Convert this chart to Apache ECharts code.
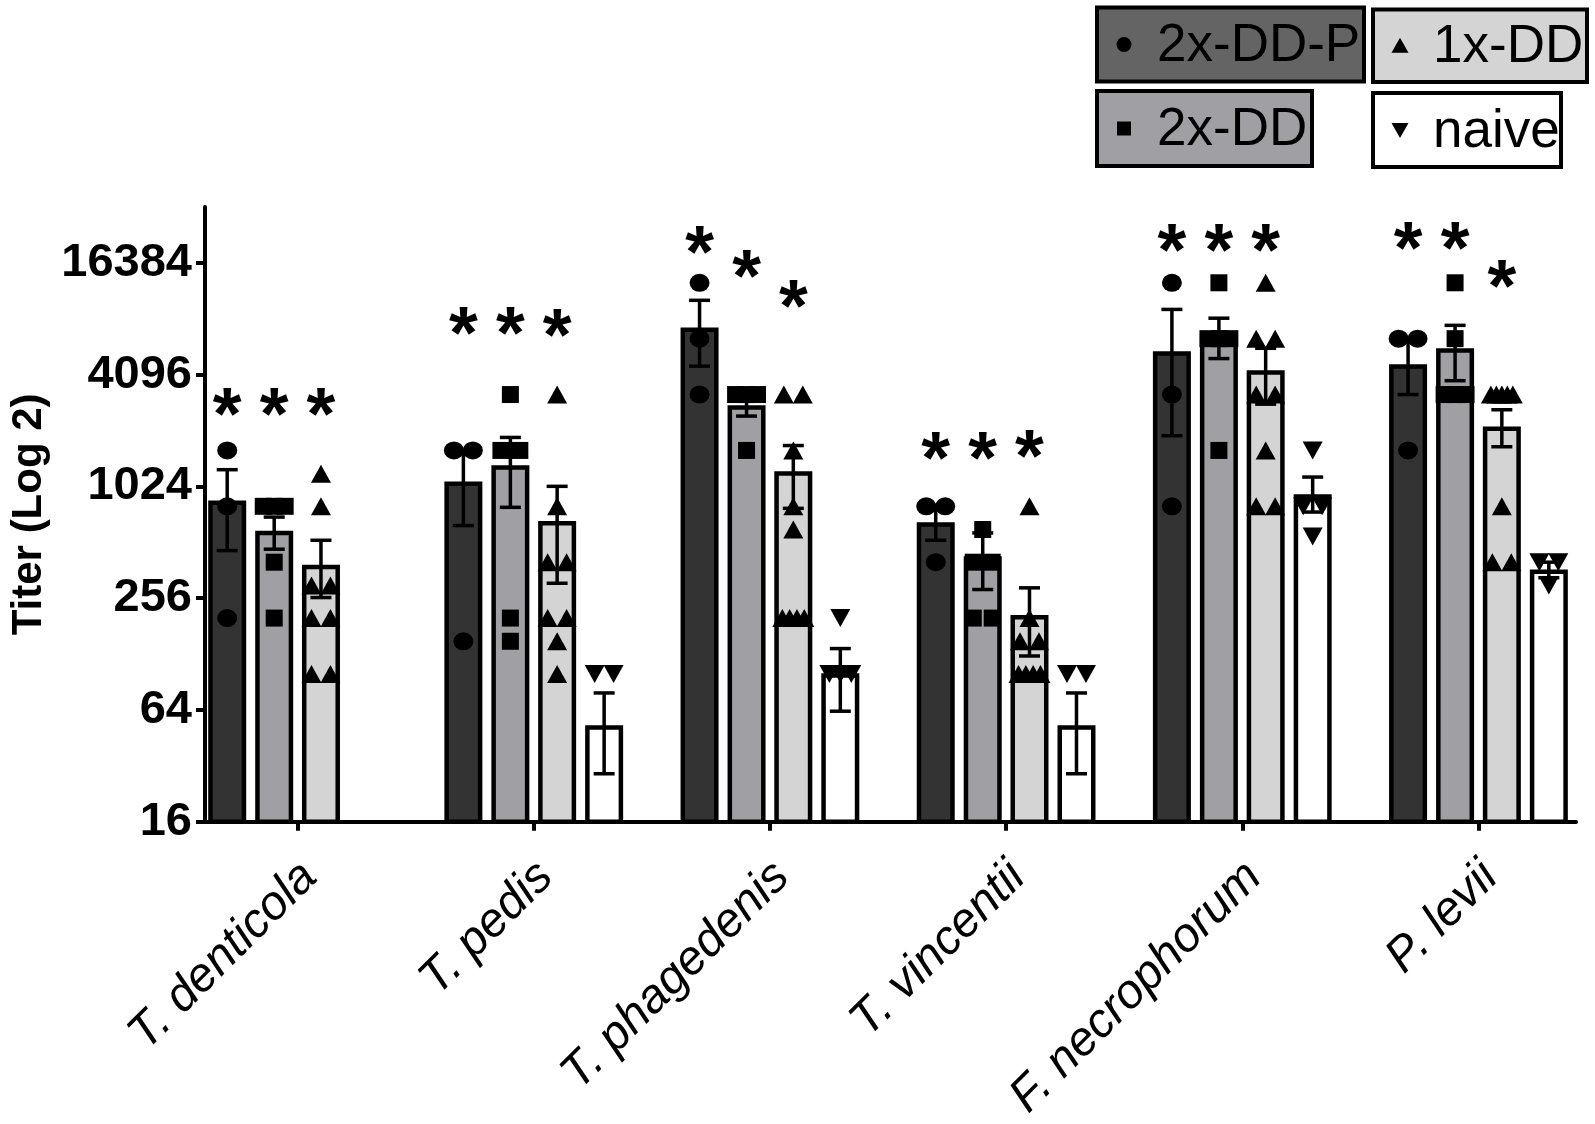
<!DOCTYPE html>
<html><head><meta charset="utf-8">
<script src="https://cdn.jsdelivr.net/npm/echarts@6/dist/echarts.min.js"></script>
<style>html,body{margin:0;padding:0;background:#fff;overflow:hidden}#c{width:1595px;height:1124px}</style>
</head><body><div id="c"></div>
<script>
// ---- data ----
const categories = ['T. denticola','T. pedis','T. phagedenis','T. vincentii','F. necrophorum','P. levii'];
const groupNames = ['2x-DD-P','2x-DD','1x-DD','naive'];
const yTicks = [16, 64, 256, 1024, 4096, 16384];

const mean2xDDP = [860, 1090, 7360, 657, 5470, 4660];
const mean2xDD  = [590, 1330, 2800, 430, 6700, 5680];
const mean1xDD  = [388, 666, 1235, 208, 4330, 2150];
const meanNaive = [null, 53, 101, 53, 930, 365];

const err2xDDP = [[462,1260],[630,1600],[4550,10300],[525,800],[1920,9200],[3200,6400]];
const err2xDD  = [[470,700],[790,1880],[2450,3200],[285,575],[5000,8250],[3800,7550]];
const err1xDD  = [[258,525],[308,1025],[780,1700],[125,291],[2840,5680],[1675,2650]];
const errNaive = [null,[29,79],[63,137],[29,79],[745,1150],[330,400]];

const pts2xDDP = [[1600,800,200],[1600,1600,150],[12800,6400,3200],[800,800,400],[12800,3200,800],[6400,6400,1600]];
const pts2xDD  = [[800,800,800,400,200],[3200,1600,1600,200,150],[3200,3200,3200,1600],[600,400,400,200,200],[12800,6400,6400,6400,1600],[12800,6400,3200,3200,3200]];
const pts1xDD  = [[1200,800,300,300,200,200,100,100],[3200,800,400,400,200,200,150,100],[3200,3200,1600,800,600,200,200,200,200],[800,200,150,150,100,100,100,100],[12800,6400,6400,3200,3200,1600,800,800],[3200,3200,3200,3200,3200,800,400,400]];
const ptsNaive = [[],[100,100],[200,100,100,100],[100,100],[1600,800,800,550],[400,400,300]];

// heights at which the significance asterisks sit
const star2xDDP = [2950, 8000, 21800, 1700, 22400, 23000];
const star2xDD  = [2950, 8000, 16150, 1700, 22400, 23000];
const star1xDD  = [2950, 7800, 11200, 1750, 22400, 14300];

// ---- styling / layout ----
const FONT = '"Liberation Sans", Arial, sans-serif';
const UNIT = 237; // px per category along x
const barOff = [-0.298, -0.099, 0.099, 0.298];
const fills = ['#333333', '#a0a0a4', '#d4d4d4', '#ffffff'];
const symbols = ['circle', 'rect', 'triangle', 'triangle'];
const symSizes = [[20,18],[17,17],[20,18],[20,18]];
const symRot = [0, 0, 0, 180];

const means = [mean2xDDP, mean2xDD, mean1xDD, meanNaive];
const errs = [err2xDDP, err2xDD, err1xDD, errNaive];
const pts = [pts2xDDP, pts2xDD, pts1xDD, ptsNaive];
const stars = [star2xDDP, star2xDD, star1xDD];

function spread(vals, center) {
  const counts = {}; vals.forEach(v => counts[v] = (counts[v] || 0) + 1);
  const seen = {};
  return vals.map(v => {
    const n = counts[v];
    const j = (seen[v] = (seen[v] || 0) + 1) - 1;
    const step = n <= 1 ? 0 : (n === 2 ? 19 : 22 / (n - 1));
    return [center + (j - (n - 1) / 2) * step / UNIT, v];
  });
}

const series = [];
for (let s = 0; s < 4; s++) {
  series.push({
    type: 'bar', name: groupNames[s], silent: true, z: 2,
    barWidth: 38, barGap: '-100%',
    itemStyle: { color: fills[s], borderColor: '#000', borderWidth: 4.5 },
    data: means[s].map((v, i) => v == null ? null : [i + barOff[s], v]).filter(Boolean)
  });
}
for (let s = 0; s < 4; s++) {
  series.push({
    type: 'custom', silent: true, z: 3,
    encode: { x: 0, y: [1, 2] },
    data: errs[s].map((e, i) => e ? [i + barOff[s], e[0], e[1]] : null).filter(Boolean),
    renderItem: function (params, api) {
      const x = api.value(0);
      const lo = api.coord([x, api.value(1)]);
      const hi = api.coord([x, api.value(2)]);
      const cap = 10.5, st = { stroke: '#000', lineWidth: 3.5 };
      return { type: 'group', children: [
        { type: 'line', shape: { x1: lo[0], y1: lo[1], x2: hi[0], y2: hi[1] }, style: st },
        { type: 'line', shape: { x1: hi[0] - cap, y1: hi[1], x2: hi[0] + cap, y2: hi[1] }, style: st },
        { type: 'line', shape: { x1: lo[0] - cap, y1: lo[1], x2: lo[0] + cap, y2: lo[1] }, style: st }
      ]};
    }
  });
}
for (let s = 0; s < 4; s++) {
  let data = [];
  pts[s].forEach((vals, i) => { data = data.concat(spread(vals, i + barOff[s])); });
  series.push({
    type: 'scatter', silent: true, z: 4,
    symbol: symbols[s], symbolSize: symSizes[s], symbolRotate: symRot[s],
    itemStyle: { color: '#000', opacity: 1 },
    data: data
  });
}
for (let s = 0; s < 3; s++) {
  series.push({
    type: 'custom', silent: true, z: 5,
    encode: { x: 0, y: 1 },
    data: stars[s].map((v, i) => [i + barOff[s], v]),
    renderItem: function (params, api) {
      const p = api.coord([api.value(0), api.value(1)]);
      return { type: 'text', x: p[0], y: p[1] + 17,
        style: { text: '*', font: 'bold 74px ' + FONT, fill: '#000', textAlign: 'center', textVerticalAlign: 'middle' } };
    }
  });
}

// legend boxes
const legendBoxes = [
  { x: 1097, y: 7.5, w: 267, h: 74, fill: '#646464', text: groupNames[0], mark: 'circle' },
  { x: 1373, y: 9.5, w: 214, h: 72.5, fill: '#d4d4d4', text: groupNames[2], mark: 'up' },
  { x: 1097, y: 91, w: 215, h: 75, fill: '#a0a0a4', text: groupNames[1], mark: 'square' },
  { x: 1373, y: 93, w: 188, h: 74, fill: '#ffffff', text: groupNames[3], mark: 'down' }
];
const graphic = [];
legendBoxes.forEach(b => {
  const cy = b.y + b.h / 2, mx = b.x + 27;
  graphic.push({ type: 'rect', shape: { x: b.x, y: b.y, width: b.w, height: b.h },
    style: { fill: b.fill, stroke: '#000', lineWidth: 4 } });
  if (b.mark === 'circle') graphic.push({ type: 'circle', shape: { cx: mx, cy: cy, r: 7.5 }, style: { fill: '#000' } });
  if (b.mark === 'square') graphic.push({ type: 'rect', shape: { x: mx - 7, y: cy - 7, width: 14, height: 14 }, style: { fill: '#000' } });
  if (b.mark === 'up') graphic.push({ type: 'polygon', shape: { points: [[mx - 8.5, cy + 7], [mx + 8.5, cy + 7], [mx, cy - 8]] }, style: { fill: '#000' } });
  if (b.mark === 'down') graphic.push({ type: 'polygon', shape: { points: [[mx - 8.5, cy - 7], [mx + 8.5, cy - 7], [mx, cy + 8]] }, style: { fill: '#000' } });
  graphic.push({ type: 'text', x: b.x + 60, y: cy + 2,
    style: { text: b.text, font: '53px ' + FONT, fill: '#000', textAlign: 'left', textVerticalAlign: 'middle' } });
});

const chart = echarts.init(document.getElementById('c'), null, { renderer: 'canvas' });
chart.setOption({
  animation: false,
  backgroundColor: '#fff',
  grid: { left: 200, right: 19, top: 207, bottom: 290, containLabel: false },
  xAxis: {
    type: 'value', min: -0.392, max: 5.413,
    axisLine: { show: true, onZero: false, lineStyle: { color: '#000', width: 4 } },
    axisTick: { show: true, length: 9, lineStyle: { color: '#000', width: 4 }, customValues: [0,1,2,3,4,5] },
    axisLabel: { customValues: [0.05,1.05,2.05,3.05,4.05,5.05], formatter: v => categories[Math.round(v)],
      rotate: 45, margin: 48, fontSize: 48, fontStyle: 'italic', color: '#000', fontFamily: FONT },
    splitLine: { show: false }
  },
  yAxis: {
    type: 'log', logBase: 2, min: 16, max: 32768,
    name: 'Titer (Log 2)', nameLocation: 'middle', nameGap: 155,
    nameTextStyle: { fontSize: 42, fontWeight: 'bold', color: '#000', fontFamily: FONT },
    axisLine: { show: true, onZero: false, lineStyle: { color: '#000', width: 4 } },
    axisTick: { show: true, length: 9, lineStyle: { color: '#000', width: 4 }, customValues: yTicks },
    axisLabel: { customValues: yTicks, formatter: v => String(Math.round(v)),
      fontSize: 47, fontWeight: 'bold', color: '#000', margin: 13, fontFamily: FONT },
    splitLine: { show: false }
  },
  graphic: graphic,
  series: series
});
</script>
</body></html>
